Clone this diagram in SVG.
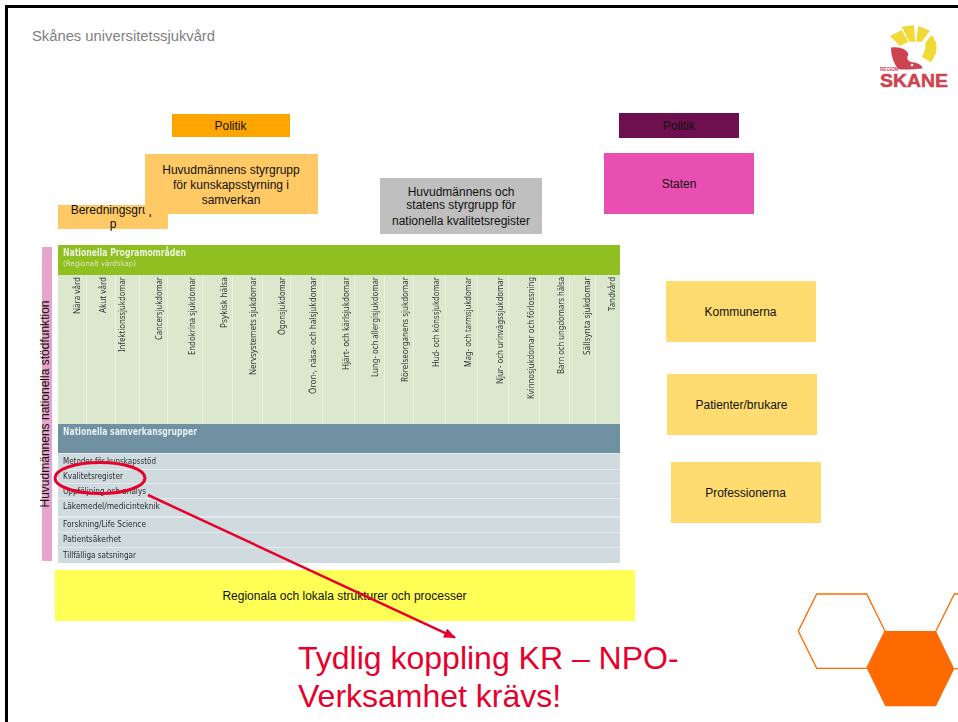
<svg xmlns="http://www.w3.org/2000/svg" width="958" height="722" viewBox="0 0 958 722">
<style>
.t{font-family:"Liberation Sans",Arial,sans-serif;font-size:12px;fill:#111;text-anchor:middle}
.v{font-family:"Noto Sans","DejaVu Sans",sans-serif;font-size:8.5px;fill:#333}
.r{font-family:"DejaVu Sans","Noto Sans",sans-serif;font-size:8.5px;fill:#2c2c2c}
.h{font-family:"DejaVu Sans","Noto Sans",sans-serif;font-size:10px;font-weight:bold;fill:#e9f2dc}
.sep{fill:#eaf1e1}
.row{fill:#cfdbdf}
.big{font-family:"Liberation Sans",Arial,sans-serif;font-size:32px;fill:#e8002d}
.y{fill:#f2d935}
.hexo{fill:none;stroke:#ff6a00;stroke-width:1.3}
</style>
<defs>
<filter id="soft" x="-5%" y="-5%" width="110%" height="110%"><feGaussianBlur stdDeviation="0.4"/></filter>
<marker id="arr" markerWidth="12" markerHeight="10" refX="11" refY="5" orient="auto" markerUnits="userSpaceOnUse" viewBox="0 0 12 10"><path d="M0 0L12 5L0 10Z" fill="#e8002d"/></marker>
</defs>
<rect width="958" height="722" fill="#fff"/>
<g id="frame"><rect x="5" y="5" width="953" height="3" fill="#000"/><rect x="5" y="5" width="3" height="717" fill="#000"/></g>
<text x="32" y="41" font-family="Liberation Sans,Arial,sans-serif" font-size="14.7" fill="#808080" textLength="183" lengthAdjust="spacingAndGlyphs">Skånes universitetssjukvård</text>

<g id="logo">
<path class="y" d="M890 36L901.5 30L908.5 41.7L900 46Z"/>
<path class="y" d="M901.7 26.7L914 25L915 41.7L909.3 41.7Z"/>
<path class="y" d="M918.3 26L930 30.7L921.7 41.7L916 41.7Z"/>
<path class="y" d="M931.7 35Q942 48 930.7 62.3L921.7 56.7Q927 48 925 43.3Z"/>
<path d="M891 47.5Q905 46 908.5 54Q905 60 911 62Q922 63 922.5 68.5L916 69Q903 70 898 69Q891 60 891 47.5Z" fill="#cf4350"/>
<circle cx="912" cy="65" r="1.3" fill="#fff"/>
<text x="880" y="70.8" font-family="Liberation Sans,Arial,sans-serif" font-size="4.6" font-weight="bold" fill="#cf4350">REGION</text>
<text x="880" y="87" font-family="Liberation Sans,Arial,sans-serif" font-size="19" font-weight="bold" fill="#cf4350" stroke="#cf4350" stroke-width="0.5" textLength="68" lengthAdjust="spacingAndGlyphs">SKANE</text>
</g>

<g id="politik-1"><rect x="172" y="114" width="118" height="23" fill="#ffa500"/><text class="t" x="230.500" y="130">Politik</text></g>
<g id="beredningsgrupp"><rect x="58" y="205" width="110" height="24" fill="#ffc966"/><text class="t" x="113" y="214">Beredningsgrup</text><text class="t" x="113" y="228">p</text></g>
<g id="styrgrupp"><rect x="145" y="154" width="173" height="60" fill="#ffc966"/><text class="t" x="231" y="174">Huvudmännens styrgrupp</text><text class="t" x="231" y="189">för kunskapsstyrning i</text><text class="t" x="231" y="204">samverkan</text></g>
<g id="kvalitetsregister-styrgrupp"><rect x="380" y="178" width="162" height="56" fill="#bfbfbf"/><text class="t" x="461" y="196">Huvudmännens och</text><text class="t" x="461" y="209">statens styrgrupp för</text><text class="t" x="461" y="225">nationella kvalitetsregister</text></g>
<g id="politik-2"><rect x="619" y="113" width="120" height="25" fill="#6e0f4f"/><text class="t" x="679" y="130">Politik</text></g>
<g id="staten"><rect x="604" y="153" width="150" height="61" fill="#e84fb0"/><text class="t" x="679" y="188">Staten</text></g>
<g id="kommunerna"><rect x="666" y="281" width="150" height="61" fill="#ffdb70"/><text class="t" x="740.500" y="316">Kommunerna</text></g>
<g id="patienter"><rect x="667" y="374" width="150" height="61" fill="#ffdb70"/><text class="t" x="741.500" y="409">Patienter/brukare</text></g>
<g id="professionerna"><rect x="671" y="462" width="150" height="61" fill="#ffdb70"/><text class="t" x="745.500" y="497">Professionerna</text></g>

<g id="stodfunktion"><rect x="42" y="247" width="10" height="314" fill="#e8a5cb"/><text class="t" transform="translate(49 404) rotate(-90)" textLength="207" lengthAdjust="spacingAndGlyphs">Huvudmännens nationella stödfunktion</text></g>

<g id="programomraden">
<rect x="58" y="245" width="562" height="30" fill="#8fbf21"/>
<rect x="58" y="275" width="562" height="149" fill="#dce8cd"/>
<g class="sep">
<rect x="86" y="276" width="1" height="148"/><rect x="115" y="276" width="1" height="148"/><rect x="139" y="276" width="1" height="148"/><rect x="167" y="276" width="1" height="148"/><rect x="202" y="276" width="1" height="148"/><rect x="232" y="276" width="1" height="148"/><rect x="262" y="276" width="1" height="148"/><rect x="290" y="276" width="1" height="148"/><rect x="322" y="276" width="1" height="148"/><rect x="354" y="276" width="1" height="148"/><rect x="384" y="276" width="1" height="148"/><rect x="413" y="276" width="1" height="148"/><rect x="445" y="276" width="1" height="148"/><rect x="477" y="276" width="1" height="148"/><rect x="508" y="276" width="1" height="148"/><rect x="539" y="276" width="1" height="148"/><rect x="569" y="276" width="1" height="148"/><rect x="595" y="276" width="1" height="148"/>
</g>
<g filter="url(#soft)">
<text class="h" x="63" y="256" textLength="123" lengthAdjust="spacingAndGlyphs">Nationella Programområden</text>
<text class="r" x="63" y="266" style="fill:#d9e9b8;font-size:7.5px" textLength="73" lengthAdjust="spacingAndGlyphs">(Regionalt värdskap)</text>
<text class="v" transform="translate(80 314) rotate(-90)" textLength="37" lengthAdjust="spacingAndGlyphs">Nära vård</text>
<text class="v" transform="translate(106 313) rotate(-90)" textLength="36" lengthAdjust="spacingAndGlyphs">Akut vård</text>
<text class="v" transform="translate(125 352) rotate(-90)" textLength="75" lengthAdjust="spacingAndGlyphs">Infektionssjukdomar</text>
<text class="v" transform="translate(162 340) rotate(-90)" textLength="63" lengthAdjust="spacingAndGlyphs">Cancersjukdomar</text>
<text class="v" transform="translate(195 355) rotate(-90)" textLength="78" lengthAdjust="spacingAndGlyphs">Endokrina sjukdomar</text>
<text class="v" transform="translate(227 328) rotate(-90)" textLength="51" lengthAdjust="spacingAndGlyphs">Psykisk hälsa</text>
<text class="v" transform="translate(256 375) rotate(-90)" textLength="98" lengthAdjust="spacingAndGlyphs">Nervsystemets sjukdomar</text>
<text class="v" transform="translate(285 335) rotate(-90)" textLength="58" lengthAdjust="spacingAndGlyphs">Ögonsjukdomar</text>
<text class="v" transform="translate(316 394) rotate(-90)" textLength="117" lengthAdjust="spacingAndGlyphs">Öron-, näsa- och halsjukdomar</text>
<text class="v" transform="translate(349 370) rotate(-90)" textLength="93" lengthAdjust="spacingAndGlyphs">Hjärt- och kärlsjukdomar</text>
<text class="v" transform="translate(378 377) rotate(-90)" textLength="100" lengthAdjust="spacingAndGlyphs">Lung- och allergisjukdomar</text>
<text class="v" transform="translate(408 382) rotate(-90)" textLength="105" lengthAdjust="spacingAndGlyphs">Rörelseorganens sjukdomar</text>
<text class="v" transform="translate(439 367) rotate(-90)" textLength="90" lengthAdjust="spacingAndGlyphs">Hud- och könssjukdomar</text>
<text class="v" transform="translate(471 367) rotate(-90)" textLength="90" lengthAdjust="spacingAndGlyphs">Mag- och tarmsjukdomar</text>
<text class="v" transform="translate(503 384) rotate(-90)" textLength="107" lengthAdjust="spacingAndGlyphs">Njur- och urinvägssjukdomar</text>
<text class="v" transform="translate(534 399) rotate(-90)" textLength="122" lengthAdjust="spacingAndGlyphs">Kvinnosjukdomar och förlossning</text>
<text class="v" transform="translate(564 374) rotate(-90)" textLength="97" lengthAdjust="spacingAndGlyphs">Barn och ungdomars hälsa</text>
<text class="v" transform="translate(590 355) rotate(-90)" textLength="78" lengthAdjust="spacingAndGlyphs">Sällsynta sjukdomar</text>
<text class="v" transform="translate(615 311) rotate(-90)" textLength="34" lengthAdjust="spacingAndGlyphs">Tandvård</text>
</g>
</g>

<g id="samverkansgrupper">
<rect x="58" y="424" width="562" height="29" fill="#6f91a2"/>
<rect x="58" y="453" width="562" height="110" fill="#e4ebee"/>
<rect class="row" x="58" y="454" width="562" height="15"/><rect class="row" x="58" y="470" width="562" height="13"/><rect class="row" x="58" y="484" width="562" height="14"/><rect class="row" x="58" y="499" width="562" height="17"/><rect class="row" x="58" y="518" width="562" height="14"/><rect class="row" x="58" y="533" width="562" height="14"/><rect class="row" x="58" y="548" width="562" height="15"/>
<g filter="url(#soft)">
<text class="h" x="63" y="435" style="fill:#e8eff2" textLength="134" lengthAdjust="spacingAndGlyphs">Nationella samverkansgrupper</text>
<text class="r" x="63" y="464" textLength="93" lengthAdjust="spacingAndGlyphs">Metoder för kunskapsstöd</text>
<text class="r" x="63" y="479" textLength="60" lengthAdjust="spacingAndGlyphs">Kvalitetsregister</text>
<text class="r" x="63" y="494" textLength="83" lengthAdjust="spacingAndGlyphs">Uppföljning och analys</text>
<text class="r" x="63" y="509" textLength="97" lengthAdjust="spacingAndGlyphs">Läkemedel/medicinteknik</text>
<text class="r" x="63" y="527" textLength="83" lengthAdjust="spacingAndGlyphs">Forskning/Life Science</text>
<text class="r" x="63" y="542" textLength="58" lengthAdjust="spacingAndGlyphs">Patientsäkerhet</text>
<text class="r" x="63" y="558" textLength="73" lengthAdjust="spacingAndGlyphs">Tillfälliga satsningar</text>
</g>
</g>

<g id="regionala"><rect x="55" y="570" width="580" height="51" fill="#ffff55"/><text class="t" x="344.500" y="600">Regionala och lokala strukturer och processer</text></g>

<g id="connectors"><ellipse cx="100" cy="478" rx="45" ry="15.500" fill="none" stroke="#e8002d" stroke-width="3"/><line x1="148" y1="495" x2="455" y2="637.700" stroke="#e8002d" stroke-width="2.500" marker-end="url(#arr)"/></g>

<g id="hexagons">
<polygon class="hexo" points="816.7,594 866.7,594 885,631 866.7,668.3 816.7,668.3 798.3,631"/>
<polygon points="885.3,631 936,631 954.3,668.7 936,706.3 885.3,706.3 867,668.7" fill="#ff6a00"/>
<polyline class="hexo" points="936,631 954.3,594 958,594"/>
<line class="hexo" x1="954.3" y1="668.7" x2="958" y2="668.7"/>
</g>

<g id="callout"><text class="big" x="298" y="669">Tydlig koppling KR – NPO-</text><text class="big" x="298" y="707">Verksamhet krävs!</text></g>
</svg>
